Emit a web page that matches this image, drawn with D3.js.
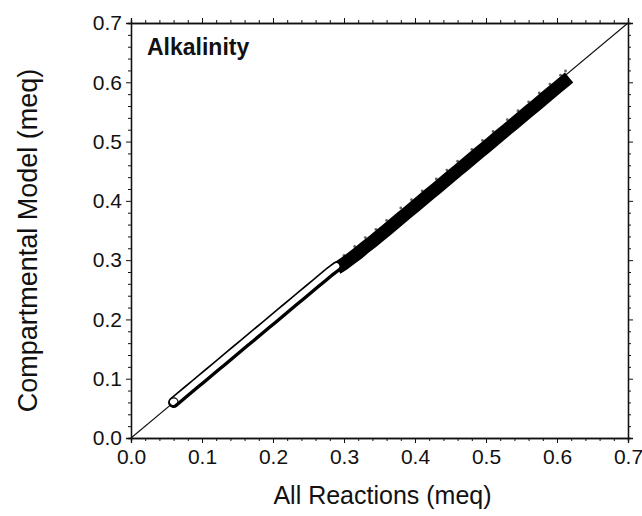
<!DOCTYPE html>
<html>
<head>
<meta charset="utf-8">
<script src="https://cdn.jsdelivr.net/npm/d3@7"></script>
<style>
  body { margin: 0; background: #fff; }
  text { font-family: "Liberation Sans", Arial, sans-serif; fill: #111; }
</style>
</head>
<body>
<div id="chart"></div>
<script>
// tick values
const ticks = [0.0, 0.1, 0.2, 0.3, 0.4, 0.5, 0.6, 0.7];
const minorTicks = [0.02, 0.04, 0.06, 0.08, 0.12, 0.14, 0.16, 0.18, 0.22, 0.24, 0.26, 0.28,
  0.32, 0.34, 0.36, 0.38, 0.42, 0.44, 0.46, 0.48, 0.52, 0.54, 0.56, 0.58, 0.62, 0.64, 0.66, 0.68];

// open markers (low range)
const openX = [0.060, 0.070, 0.080, 0.090, 0.100, 0.110, 0.120, 0.130, 0.140, 0.150, 0.160, 0.170,
  0.180, 0.190, 0.200, 0.210, 0.220, 0.230, 0.240, 0.250, 0.260, 0.270, 0.280, 0.290];
const openY = [0.060, 0.070, 0.080, 0.090, 0.100, 0.110, 0.120, 0.130, 0.140, 0.150, 0.160, 0.170,
  0.180, 0.190, 0.200, 0.210, 0.220, 0.230, 0.240, 0.250, 0.260, 0.270, 0.280, 0.289];

// filled markers (high range), a bit under the 1:1 line
const fillX = [0.290, 0.300, 0.310, 0.320, 0.330, 0.340, 0.350, 0.360, 0.370, 0.380, 0.390, 0.400,
  0.410, 0.420, 0.430, 0.440, 0.450, 0.460, 0.470, 0.480, 0.490, 0.500, 0.510, 0.520, 0.530,
  0.540, 0.550, 0.560, 0.570, 0.580, 0.590, 0.600, 0.610, 0.617];
const fillY = [0.286, 0.294, 0.303, 0.312, 0.322, 0.331, 0.341, 0.351, 0.361, 0.371, 0.381, 0.391,
  0.401, 0.411, 0.421, 0.431, 0.441, 0.451, 0.461, 0.471, 0.481, 0.491, 0.501, 0.511, 0.521,
  0.531, 0.541, 0.551, 0.561, 0.571, 0.581, 0.591, 0.601, 0.608];

// sparse grey scatter along the upper edge
const scatX = [0.300, 0.315, 0.330, 0.345, 0.360, 0.380, 0.395, 0.410, 0.430, 0.445, 0.460, 0.480,
  0.495, 0.510, 0.530, 0.545, 0.560, 0.575, 0.590, 0.605, 0.612];
const scatY = [0.308, 0.323, 0.338, 0.352, 0.367, 0.388, 0.402, 0.417, 0.437, 0.452, 0.467, 0.487,
  0.502, 0.517, 0.537, 0.552, 0.567, 0.582, 0.597, 0.612, 0.619];

const W = 642, H = 516;
const margin = {top: 23, right: 14, bottom: 78, left: 131};
const width = W - margin.left - margin.right,
      height = H - margin.top - margin.bottom;

const svg = d3.select("#chart").append("svg")
  .attr("width", W).attr("height", H)
  .append("g")
  .attr("transform", `translate(${margin.left},${margin.top})`);

const x = d3.scaleLinear().domain([0, 0.7]).range([0, width]);
const y = d3.scaleLinear().domain([0, 0.7]).range([height, 0]);

// 1:1 line
svg.append("line")
  .attr("x1", x(0)).attr("y1", y(0)).attr("x2", x(0.7)).attr("y2", y(0.7))
  .attr("stroke", "#111").attr("stroke-width", 1.1);

// grey scatter
svg.append("g").selectAll("circle")
  .data(scatX.map((d, i) => [d, scatY[i]]))
  .join("circle")
  .attr("cx", d => x(d[0])).attr("cy", d => y(d[1]))
  .attr("r", 1.4).attr("fill", "#666");

// filled band
const line = d3.line().x(d => x(d[0])).y(d => y(d[1]));
const fillPts = fillX.map((d, i) => [d, fillY[i]]);
svg.append("path").datum(fillPts)
  .attr("d", line).attr("fill", "none")
  .attr("stroke", "#000").attr("stroke-width", 13).attr("stroke-linecap", "butt");

// open tube
const openPts = openX.map((d, i) => [d, openY[i]]);
svg.append("path").datum(openPts)
  .attr("d", line).attr("fill", "none")
  .attr("stroke", "#000").attr("stroke-width", 11).attr("stroke-linecap", "round");
svg.append("path").datum(openPts)
  .attr("d", line).attr("fill", "none")
  .attr("transform", "translate(-0.6,-0.6)")
  .attr("stroke", "#fff").attr("stroke-width", 6).attr("stroke-linecap", "round");
svg.append("g").selectAll("circle")
  .data(openPts.slice(0, 1)).join("circle")
  .attr("cx", d => x(d[0])).attr("cy", d => y(d[1]))
  .attr("r", 4.5).attr("fill", "none").attr("stroke", "#000").attr("stroke-width", 1.2);

// axes with outward ticks on all four sides
function addAxis(axis, tr) {
  const g = svg.append("g").attr("transform", tr);
  g.call(axis);
  g.select(".domain").attr("stroke", "#111").attr("stroke-width", 1.3);
  g.selectAll(".tick line").attr("stroke", "#111");
  return g;
}
addAxis(d3.axisBottom(x).tickValues(minorTicks).tickSize(3).tickFormat(""), `translate(0,${height})`);
addAxis(d3.axisLeft(y).tickValues(minorTicks).tickSize(3).tickFormat(""), "");
addAxis(d3.axisTop(x).tickValues(minorTicks).tickSize(3).tickFormat(""), "");
addAxis(d3.axisRight(y).tickValues(minorTicks).tickSize(3).tickFormat(""), `translate(${width},0)`);
addAxis(d3.axisTop(x).tickValues(ticks).tickSize(5).tickFormat(""), "");
addAxis(d3.axisRight(y).tickValues(ticks).tickSize(5).tickFormat(""), `translate(${width},0)`);

const xb = addAxis(d3.axisBottom(x).tickValues(ticks).tickSize(5).tickPadding(6).tickFormat(d3.format(".1f")),
  `translate(0,${height})`);
xb.selectAll("text").style("font-size", "21px").attr("fill", "#111");
const yl = addAxis(d3.axisLeft(y).tickValues(ticks).tickSize(5).tickPadding(4).tickFormat(d3.format(".1f")), "");
yl.selectAll("text").style("font-size", "21px").attr("fill", "#111");

// labels
svg.append("text")
  .attr("x", width / 2 + 3).attr("y", height + 66)
  .attr("text-anchor", "middle").style("font-size", "25px")
  .text("All Reactions (meq)");
svg.append("text")
  .attr("transform", `translate(${-94},${height / 2 + 10}) rotate(-90)`)
  .attr("text-anchor", "middle").style("font-size", "27px")
  .text("Compartmental Model (meq)");
svg.append("text")
  .attr("x", 16).attr("y", 32)
  .style("font-size", "23px").style("font-weight", "bold")
  .text("Alkalinity");
</script>
</body>
</html>
